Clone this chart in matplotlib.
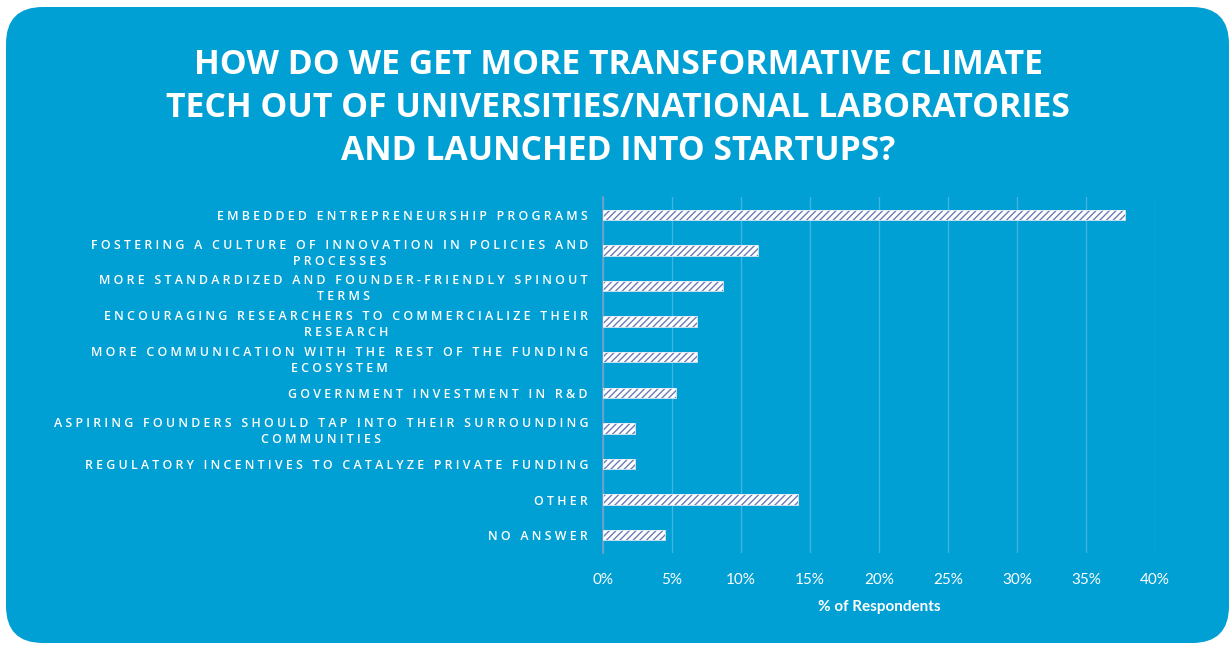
import matplotlib
matplotlib.use("Agg")
import matplotlib.pyplot as plt
from matplotlib.patches import FancyBboxPatch

# Survey responses
categories = [
    "EMBEDDED ENTREPRENEURSHIP PROGRAMS",
    "FOSTERING A CULTURE OF INNOVATION IN POLICIES AND\nPROCESSES",
    "MORE STANDARDIZED AND FOUNDER-FRIENDLY SPINOUT\nTERMS",
    "ENCOURAGING RESEARCHERS TO COMMERCIALIZE THEIR\nRESEARCH",
    "MORE COMMUNICATION WITH THE REST OF THE FUNDING\nECOSYSTEM",
    "GOVERNMENT INVESTMENT IN R&D",
    "ASPIRING FOUNDERS SHOULD TAP INTO THEIR SURROUNDING\nCOMMUNITIES",
    "REGULATORY INCENTIVES TO CATALYZE PRIVATE FUNDING",
    "OTHER",
    "NO ANSWER",
]
share_pct = [37.8, 11.2, 8.7, 6.8, 6.8, 5.3, 2.3, 2.3, 14.1, 4.5]
tick_values = [0, 5, 10, 15, 20, 25, 30, 35, 40]
tick_labels = ["0%", "5%", "10%", "15%", "20%", "25%", "30%", "35%", "40%"]

title = ("HOW DO WE GET MORE TRANSFORMATIVE CLIMATE\n"
         "TECH OUT OF UNIVERSITIES/NATIONAL LABORATORIES\n"
         "AND LAUNCHED INTO STARTUPS?")

BLUE = "#009FD4"
GRID = "#3DB6E0"
HATCH = "#6A7CB8"


def spaced(text):
    """Widen the tracking of an uppercase label."""
    lines = []
    for line in text.split("\n"):
        words = [" ".join(list(w)) for w in line.split(" ")]
        lines.append("   ".join(words))
    return "\n".join(lines)


W, H = 1231, 646
fig = plt.figure(figsize=(W / 100, H / 100), dpi=100)
fig.patch.set_facecolor("white")

# rounded panel behind everything
panel = FancyBboxPatch((6 / W, 3 / H), (1223 / W), (636 / H),
                       boxstyle="round,pad=0,rounding_size=0.03",
                       transform=fig.transFigure, facecolor=BLUE,
                       edgecolor="none", zorder=-5,
                       mutation_aspect=W / H)
fig.patches.append(panel)

ax = fig.add_axes([603 / W, 1 - 553 / H, 552 / W, 356 / H], zorder=2)
ax.set_facecolor("none")

plt.rcParams["hatch.linewidth"] = 1.0
y = list(range(len(categories)))
ax.barh(y, share_pct, height=0.29, color="white", edgecolor=HATCH,
        linewidth=0, hatch="/////", zorder=3)
ax.barh(y, share_pct, height=0.29, color="none", edgecolor="#E8ECF6",
        linewidth=0.6, zorder=4)

ax.set_xlim(0, 40)
ax.set_ylim(len(categories) - 0.5, -0.5)
ax.set_xticks(tick_values)
ax.set_xticklabels(tick_labels, color="white", fontsize=11, family="Lato")
ax.set_yticks(y)
ax.set_yticklabels([spaced(c) for c in categories], color="white",
                   fontsize=8.9, family="Open Sans", fontweight="semibold",
                   multialignment="center", linespacing=1.3)
ax.tick_params(axis="both", length=0)
ax.tick_params(axis="y", pad=10.8)
ax.tick_params(axis="x", pad=14.4)

ax.grid(axis="x", color=GRID, linewidth=1.0, zorder=0)
ax.set_axisbelow(True)
for s in ["top", "right", "bottom"]:
    ax.spines[s].set_visible(False)
ax.spines["left"].set_color("#7B9CC8")
ax.spines["left"].set_linewidth(1.2)

ax.set_xlabel("% of Respondents", color="white", fontsize=11,
              family="Lato", fontweight="bold", labelpad=9)

fig.text(618 / W, 1 - 108 / H, title, ha="center", va="center",
         color="white", fontsize=24.3, family="Open Sans", fontweight="bold",
         linespacing=1.34, zorder=3)

fig.savefig("out.png", dpi=100, facecolor=fig.get_facecolor())
